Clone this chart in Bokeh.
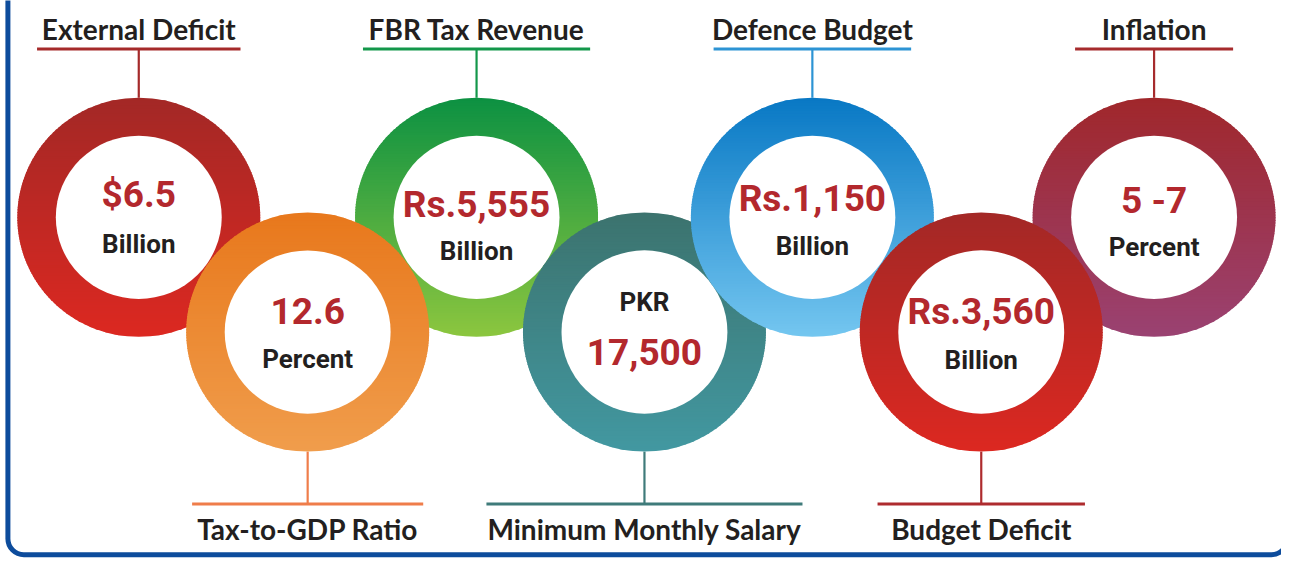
import numpy as np
from bokeh.plotting import figure
from bokeh.models import Range1d, BoxAnnotation
from bokeh.core.properties import value
from bokeh.embed import file_html
from bokeh.resources import INLINE

# ---------------- data ----------------
titles = ["External Deficit", "Tax-to-GDP Ratio", "FBR Tax Revenue",
          "Minimum Monthly Salary", "Defence Budget", "Budget Deficit", "Inflation"]
values = ["$6.5", "12.6", "Rs.5,555", "17,500", "Rs.1,150", "Rs.3,560", "5 -7"]
units = ["Billion", "Percent", "Billion", "PKR", "Billion", "Billion", "Percent"]
unit_above = [False, False, False, True, False, False, False]

# ---------------- styles / layout ----------------
ring_top = ["#A32826", "#E8781C", "#0C9142", "#3C736E", "#0878C4", "#A32826", "#A0272B"]
ring_bottom = ["#DC2821", "#F09D4C", "#8CC63F", "#4298A1", "#74C6F0", "#DC2821", "#9A4272"]
line_colors = ["#A52A2A", "#EF7D4A", "#13974A", "#3F7B7A", "#2D94D4", "#AE2B2E", "#A62B2D"]
centers_x = [140, 311, 482, 652, 822, 993, 1168]
line_half = [103, 117, 115, 160, 100, 105, 80]
val_dy = [-9, -8, 1, 35, -5, -7, -3]
unit_dy = [37, 38, 45, -21, 39, 39, 40]
draw_order = [0, 2, 1, 3, 4, 6, 5]
R_OUT, R_IN = 123, 84
TOP_CY, BOT_CY = 223, 341
TOP_LINE_Y, BOT_LINE_Y = 50, 518

W, H = 1281, 559
XW, YH = 1297.0, 575.0          # design space
SY = H / YH                      # px per design unit (vertical)

p = figure(width=W, height=H, x_range=Range1d(0, XW), y_range=Range1d(YH, 0),
           output_backend="svg", toolbar_location=None, min_border=0,
           x_axis_location=None, y_axis_location=None)
p.grid.visible = False
p.outline_line_color = None
p.background_fill_color = "white"
p.border_fill_color = "white"


def hex2rgb(h):
    h = h.lstrip("#")
    return np.array([int(h[i:i + 2], 16) for i in (0, 2, 4)], dtype=float)


def mix(c0, c1, t):
    a, b = hex2rgb(c0), hex2rgb(c1)
    c = a + (b - a) * t
    return "#%02x%02x%02x" % tuple(int(round(v)) for v in c)


def strips(cx, cy, R, n=90):
    edges = np.linspace(cy - R, cy + R, n + 1)
    xs, ys = [], []
    for k in range(n):
        y0 = edges[k]
        y1 = min(edges[k + 1] + 1.0, cy + R)
        yy = np.linspace(y0, y1, 6)
        half = np.sqrt(np.clip(R ** 2 - (yy - cy) ** 2, 0, None))
        xs.append(list(np.concatenate([cx + half, (cx - half)[::-1]])))
        ys.append(list(np.concatenate([yy, yy[::-1]])))
    return xs, ys, n


cys = [TOP_CY if i % 2 == 0 else BOT_CY for i in range(len(titles))]

# connector lines (behind rings)
for i in range(len(titles)):
    cx, cy = centers_x[i], cys[i]
    top = i % 2 == 0
    ly = TOP_LINE_Y if top else BOT_LINE_Y
    edge = cy - R_OUT if top else cy + R_OUT
    p.segment(x0=[cx], y0=[edge], x1=[cx], y1=[ly], line_color=line_colors[i], line_width=2.2)
    p.segment(x0=[cx - line_half[i]], y0=[ly], x1=[cx + line_half[i]], y1=[ly],
              line_color=line_colors[i], line_width=3)

# rings with vertical gradient
for i in draw_order:
    cx, cy = centers_x[i], cys[i]
    xs, ys, n = strips(cx, cy, R_OUT)
    cols = [mix(ring_top[i], ring_bottom[i], (k + 0.5) / n) for k in range(n)]
    p.patches(xs=xs, ys=ys, fill_color=cols, line_color=None)
    p.ellipse(x=[cx], y=[cy], width=2 * R_IN, height=2 * R_IN,
              fill_color="white", line_color=None)


def base(y_design, size_px):
    # compensate renderer baseline offset (~0.37 em lower)
    return y_design - 0.37 * size_px / SY


VAL_SIZE, UNIT_SIZE, LAB_SIZE = 37, 26, 28
val_x, val_y, unit_x, unit_y = [], [], [], []
for i in range(len(titles)):
    cx, cy = centers_x[i], cys[i]
    val_x.append(cx); val_y.append(base(cy + val_dy[i], VAL_SIZE))
    unit_x.append(cx); unit_y.append(base(cy + unit_dy[i], UNIT_SIZE))

p.text(x=val_x, y=val_y, text=values, text_font=value("Roboto"), text_font_style="bold",
       text_font_size=f"{VAL_SIZE}px", text_color="#B3282D", text_align="center",
       text_baseline="alphabetic")
p.text(x=unit_x, y=unit_y, text=units, text_font=value("Roboto"), text_font_style="bold",
       text_font_size=f"{UNIT_SIZE}px", text_color="#231F20", text_align="center",
       text_baseline="alphabetic")

lab_y = [base(40 if i % 2 == 0 else 554, LAB_SIZE) for i in range(len(titles))]
p.text(x=centers_x, y=lab_y, text=titles, text_font=value("Lato"), text_font_style="bold",
       text_font_size=f"{LAB_SIZE}px", text_color="#231F20", text_align="center",
       text_baseline="alphabetic")

# frame (its right side runs just past the picture's edge)
frame = BoxAnnotation(left=7.5, right=1303, top=-100, bottom=570, fill_alpha=0,
                      line_color="#0D4C9C", line_alpha=1.0, line_width=5,
                      border_radius=16)
p.add_layout(frame)

open("out.html", "w").write(file_html(p, INLINE))
